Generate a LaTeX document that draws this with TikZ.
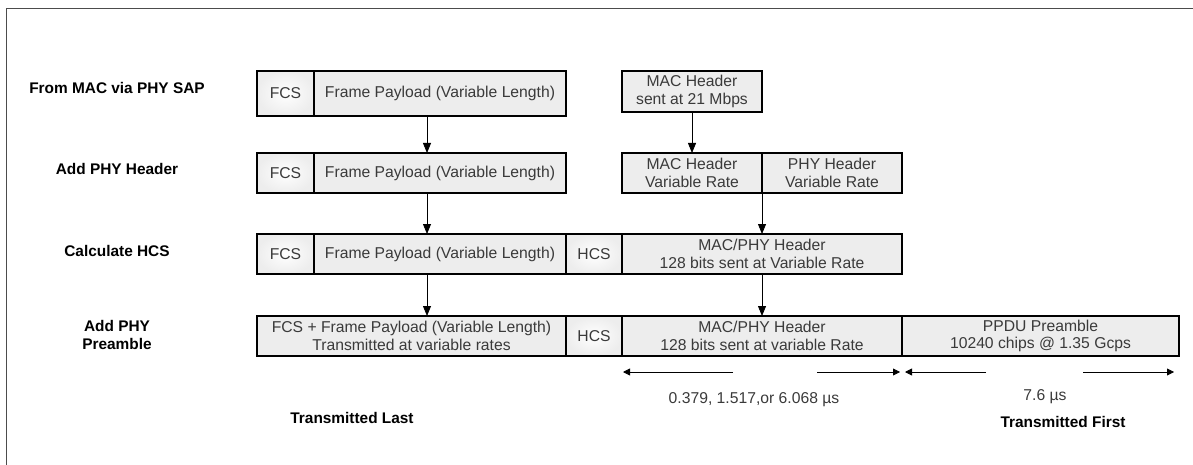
\documentclass[tikz,border=0pt]{standalone}
\usepackage{fontspec}
\setmainfont{Liberation Sans}
\usetikzlibrary{positioning,arrows.meta,shadows}
\definecolor{fundo}{HTML}{EDEDED}
\definecolor{texto}{HTML}{3A3A3A}

\begin{document}
\begin{tikzpicture}[x=1pt, y=-1pt,
    every node/.style={font=\fontsize{15.7}{17.5}\selectfont},
    campo/.style={draw, line width=1.4pt, fill=fundo, text=texto, align=center,
        inner sep=0pt, outer sep=0pt, minimum height=40pt,
        drop shadow={shadow xshift=0.9pt, shadow yshift=-0.9pt, fill=black!70, opacity=1}},
    campoC/.style={campo, inner color=white, outer color=fundo},
    rotulo/.style={font=\fontsize{15.4}{17.5}\selectfont\bfseries, align=center},
    txt/.style={text=texto},
    seta/.style={-{Triangle[length=10pt,width=8pt]}, line width=0.8pt},
    cota/.style={-{Triangle[length=7pt,width=7pt]}, line width=0.8pt}]
    \useasboundingbox (0,0) rectangle (1193,465);
    \draw[black!70, line width=0.9pt] (6,465) -- (6,8) -- (1193,8);

    % Rotulos das etapas
    \node[rotulo] (e1) at (117,88) {From MAC via PHY SAP};
    \node[rotulo] (e2) at (117,169) {Add PHY Header};
    \node[rotulo] (e3) at (117,251) {Calculate HCS};
    \node[rotulo] (e4) at (117,335) {Add PHY\\Preamble};

    % Linha 1
    \node[campoC, minimum width=57pt, minimum height=45pt, anchor=north west] (fcs1) at (257,71) {FCS};
    \node[campo, minimum width=252pt, minimum height=45pt, right=0pt of fcs1] (pay1) {Frame Payload (Variable Length)};
    \node[campo, minimum width=140pt, minimum height=41pt, anchor=north west] (mac1) at (622,71) {MAC Header\\sent at 21 Mbps};

    % Linha 2
    \node[campoC, minimum width=57pt, anchor=north west] (fcs2) at (257,153) {FCS};
    \node[campo, minimum width=252pt, right=0pt of fcs2] (pay2) {Frame Payload (Variable Length)};
    \node[campo, minimum width=140pt, anchor=north west] (mac2) at (622,153) {MAC Header\\Variable Rate};
    \node[campo, minimum width=140pt, right=0pt of mac2] (phy2) {PHY Header\\Variable Rate};

    % Linha 3
    \node[campoC, minimum width=57pt, anchor=north west] (fcs3) at (257,234) {FCS};
    \node[campo, minimum width=252pt, right=0pt of fcs3] (pay3) {Frame Payload (Variable Length)};
    \node[campoC, minimum width=56pt, right=0pt of pay3] (hcs3) {HCS};
    \node[campo, minimum width=280pt, right=0pt of hcs3] (hdr3) {MAC/PHY Header\\128 bits sent at Variable Rate};

    % Linha 4
    \node[campo, minimum width=309pt, anchor=north west] (pay4) at (257,316) {FCS + Frame Payload (Variable Length)\\Transmitted at variable rates};
    \node[campoC, minimum width=56pt, right=0pt of pay4] (hcs4) {HCS};
    \node[campo, minimum width=280pt, right=0pt of hcs4] (hdr4) {MAC/PHY Header\\128 bits sent at variable Rate};
    \node[campo, minimum width=277pt, right=0pt of hdr4] (pre4) {PPDU Preamble\\10240 chips @ 1.35 Gcps};

    % Setas entre as linhas
    \coordinate (colA) at (427,0);
    \draw[seta] (pay1.south -| colA) -- (pay2.north -| colA);
    \draw[seta] (pay2.south -| colA) -- (pay3.north -| colA);
    \draw[seta] (pay3.south -| colA) -- (pay4.north -| colA);
    \draw[seta] (mac1.south) -- (mac2.north);
    \draw[seta] (mac2.south east) -- (hdr3.north);
    \draw[seta] (hdr3.south) -- (hdr4.north);

    % Cotas de tempo
    \coordinate (a1) at (733,372);
    \coordinate (a0) at (623,372);
    \coordinate (b1) at (817,372);
    \coordinate (b0) at (900,372);
    \coordinate (c1) at (986,372);
    \coordinate (c0) at (905,372);
    \coordinate (d1) at (1083,372);
    \coordinate (d0) at (1174,372);
    \draw[cota] (a1) -- (a0);
    \draw[cota] (b1) -- (b0);
    \draw[cota] (c1) -- (c0);
    \draw[cota] (d1) -- (d0);
    \node[txt] (t1) at (754,400) {0.379, 1.517,or 6.068 µs};
    \node[txt] (t2) at (1045,397) {7.6 µs};

    \node[rotulo] (last) at (352,418) {Transmitted Last};
    \node[rotulo] (first) at (1063,422) {Transmitted First};
\end{tikzpicture}
\end{document}
